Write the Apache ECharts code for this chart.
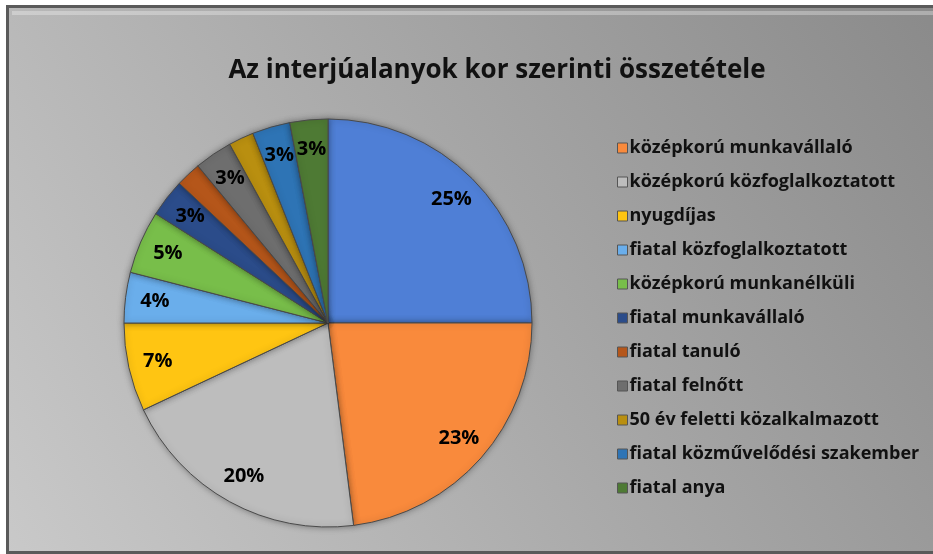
<!DOCTYPE html>
<html>
<head>
<meta charset="utf-8">
<style>
  html, body { margin: 0; padding: 0; background: #fff; }
  #chart { width: 933px; height: 554px; }
</style>
<script src="https://cdn.jsdelivr.net/npm/echarts@6/dist/echarts.min.js"></script>
</head>
<body>
<div id="chart"></div>
<script>
// kategóriák (az első szelet nem szerepel a jelmagyarázatban)
var categories = [
  'fiatal munkanélküli',
  'középkorú munkavállaló',
  'középkorú közfoglalkoztatott',
  'nyugdíjas',
  'fiatal közfoglalkoztatott',
  'középkorú munkanélküli',
  'fiatal munkavállaló',
  'fiatal tanuló',
  'fiatal felnőtt',
  '50 év feletti közalkalmazott',
  'fiatal közművelődési szakember',
  'fiatal anya'
]
var shares = [25, 23, 20, 7, 4, 5, 3, 2, 3, 2, 3, 3]
var colors = [
  '#4f7fd6', '#f98a3c', '#bdbdbd', '#ffc512', '#6aaeeb', '#78be4a',
  '#2b4c8a', '#b5561a', '#6e6e6e', '#b98f10', '#2e74b5', '#4e7a34'
]
var legendNames = categories.slice(1)

var pieData = categories.map(function(name, i) {
  return { name: name, value: shares[i], itemStyle: { color: colors[i] } }
})

var chart = echarts.init(document.getElementById('chart'))
var font = '"Open Sans", "Noto Sans", sans-serif'

chart.setOption({
  backgroundColor: 'transparent',
  color: colors,
  graphic: [
    {
      type: 'rect',
      z: -10,
      shape: { x: 7.5, y: 6.5, width: 930, height: 546 },
      style: {
        fill: new echarts.graphic.LinearGradient(0, 1, 1, 0, [
          { offset: 0, color: '#c9c9c9' },
          { offset: 0.5, color: '#a9a9a9' },
          { offset: 1, color: '#8a8a8a' }
        ]),
        stroke: '#5a5a5a',
        lineWidth: 3
      }
    },
    {
      type: 'rect',
      z: -9,
      shape: { x: 12, y: 11, width: 925, height: 4 },
      style: { fill: 'rgba(255,255,255,0.3)' }
    }
  ],
  title: {
    text: 'Az interjúalanyok kor szerinti összetétele',
    left: 492,
    textAlign: 'center',
    top: 53,
    textStyle: {
      fontFamily: font,
      fontSize: 26,
      fontWeight: 'bold',
      color: '#111'
    }
  },
  legend: {
    data: legendNames,
    orient: 'vertical',
    left: 612,
    top: 133,
    icon: 'rect',
    itemWidth: 10,
    itemHeight: 10,
    itemGap: 14,
    selectedMode: false,
    itemStyle: { borderColor: '#555', borderWidth: 1 },
    textStyle: {
      fontFamily: font,
      fontSize: 18,
      fontWeight: 'bold',
      color: '#111',
      lineHeight: 20,
      padding: [0, 0, 0, -3]
    }
  },
  series: [
    {
      type: 'pie',
      center: [328, 323],
      radius: [0, 204],
      startAngle: 90,
      clockwise: true,
      silent: true,
      label: { show: false },
      labelLine: { show: false },
      itemStyle: {
        borderColor: '#4a4a4a',
        borderWidth: 1,
        shadowBlur: 6,
        shadowColor: 'rgba(0,0,0,0.35)'
      },
      data: pieData
    },
    {
      type: 'pie',
      center: [328, 323],
      radius: [139, 204],
      startAngle: 90,
      clockwise: true,
      silent: true,
      itemStyle: { color: 'transparent', borderWidth: 0 },
      label: {
        show: true,
        position: 'inside',
        formatter: '{c}%',
        fontFamily: font,
        fontSize: 20,
        fontWeight: 'bold',
        color: '#000'
      },
      labelLine: { show: false },
      data: categories.map(function(name, i) {
        return { name: name, value: shares[i] }
      })
    }
  ]
})
</script>
</body>
</html>
